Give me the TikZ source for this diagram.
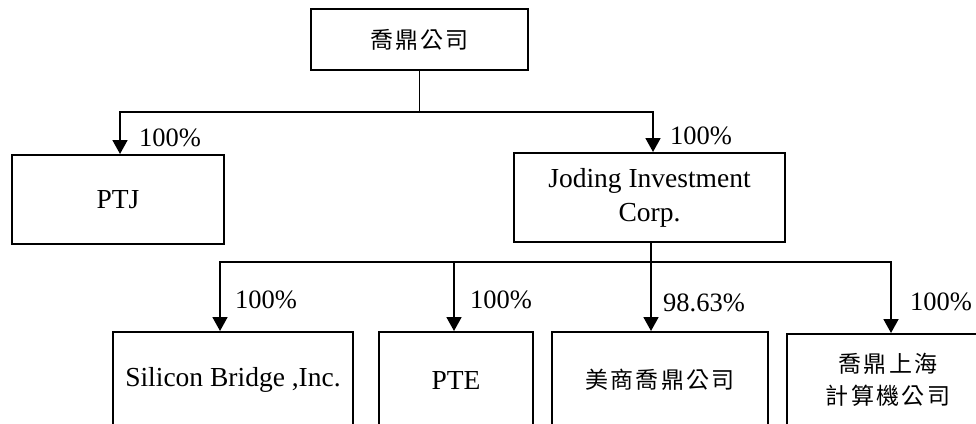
\documentclass[tikz,border=0pt]{standalone}
\usepackage{fontspec}
\setmainfont{Liberation Serif}
\newfontfamily\cjkfam[LetterSpace=10]{Noto Sans CJK TC}
\newcommand\cjtext{\cjkfam\fontsize{23}{34}\selectfont}
\usetikzlibrary{arrows.meta}
\begin{document}
\begin{tikzpicture}[x=1pt,y=-1pt,
  box/.style={draw, line width=2pt, inner sep=0pt, align=center,
    font=\fontsize{27.5}{34}\selectfont},
  pct/.style={anchor=west, inner sep=0pt, font=\fontsize{26.5}{30}\selectfont},
  link/.style={line width=1.8pt},
  bus/.style={link, line cap=rect},
  arr/.style={link, -{Triangle[width=15pt,length=14pt]}}]
\useasboundingbox (0,0) rectangle (976,423);
\clip (0,0) rectangle (976,423);
% boxes
\node[box, minimum width=217pt, minimum height=61pt] (top) at (419.5,39.5) {\cjtext 喬鼎公司};
\node[box, minimum width=212pt, minimum height=89pt] (ptj) at (118,199.5) {PTJ};
\node[box, minimum width=271pt, minimum height=89pt] (jod) at (649.5,197.5) {Joding Investment\\Corp.};
\node[box, minimum width=240pt, minimum height=96pt] (sil) at (233,380) {Silicon Bridge ,Inc.};
\node[box, minimum width=154pt, minimum height=96pt] (pte) at (456,380) {PTE};
\node[box, minimum width=216pt, minimum height=96pt] (us) at (660,380) {\cjtext 美商喬鼎公司};
\node[box, minimum width=202pt, minimum height=92pt] (sh) at (888,380) {\cjtext 喬鼎上海\\[-2pt]\cjtext 計算機公司};
% bus coordinates
\coordinate (b1L) at (120,112);
\coordinate (b1R) at (653,112);
\coordinate (b2L) at (220,262);
\coordinate (b2P) at (454,262);
\coordinate (b2U) at (651,262);
\coordinate (b2R) at (891,262);
% connectors
\draw[link] (top.south) -- (top.south |- b1L);
\draw[bus] (b1L) -- (b1R);
\draw[arr] (b1L) -- (b1L |- ptj.north);
\draw[arr] (b1R) -- (b1R |- jod.north);
\draw[bus] (b2L) -- (b2R);
\draw[arr] (b2U |- jod.south) -- (b2U |- us.north);
\draw[arr] (b2L) -- (b2L |- sil.north);
\draw[arr] (b2P) -- (b2P |- pte.north);
\draw[arr] (b2R) -- (b2R |- sh.north);
% percentages
\node[pct] (p1) at (139,138) {100\%};
\node[pct] (p2) at (670,136) {100\%};
\node[pct] (p3) at (235,300) {100\%};
\node[pct] (p4) at (470,300) {100\%};
\node[pct] (p5) at (663,303) {98.63\%};
\node[pct] (p6) at (910,302) {100\%};
\end{tikzpicture}
\end{document}
